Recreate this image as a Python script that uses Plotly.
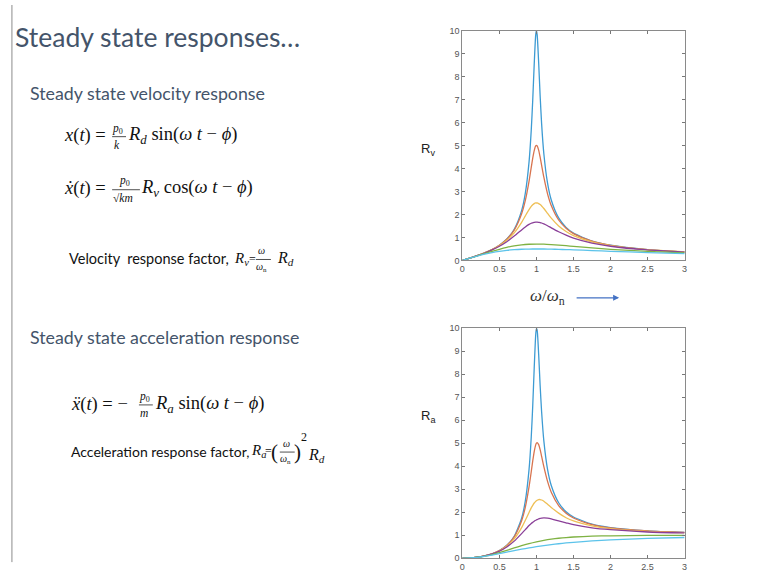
import plotly.graph_objects as go

W, H = 763, 574

# ---------------- data ----------------
damping = ["0.05", "0.1", "0.2", "0.3", "0.7", "1.0"]

x_fine = [0, 0.1, 0.2, 0.3, 0.4, 0.5, 0.6, 0.7, 0.8, 0.85, 0.9, 0.93, 0.95, 0.97, 0.99,
          1.0, 1.01, 1.03, 1.05, 1.07, 1.1, 1.15, 1.2, 1.3, 1.4, 1.5, 1.75, 2.0, 2.5, 3.0]
x_coarse = [0, 0.1, 0.2, 0.3, 0.4, 0.5, 0.6, 0.7, 0.8, 0.9, 1.0,
            1.1, 1.2, 1.3, 1.4, 1.5, 1.75, 2.0, 2.5, 3.0]

rv_005 = [0, 0.101, 0.208, 0.330, 0.476, 0.665, 0.933, 1.36, 2.17, 2.93, 4.28, 5.67, 6.98, 8.54, 9.80,
          10.0, 9.81, 8.61, 7.16, 5.94, 4.64, 3.36, 2.63, 1.85, 1.44, 1.19, 0.846, 0.665, 0.476, 0.375]
rv_010 = [0, 0.101, 0.208, 0.329, 0.474, 0.661, 0.921, 1.32, 2.03, 2.61, 3.44, 4.05, 4.45, 4.78, 4.98,
          5.0, 4.98, 4.80, 4.49, 4.14, 3.62, 2.90, 2.39, 1.76, 1.40, 1.17, 0.837, 0.661, 0.474, 0.374]
rv_020 = [0, 0.101, 0.208, 0.327, 0.468, 0.644, 0.878, 1.20, 1.66, 1.94, 2.21, 2.35, 2.42, 2.47, 2.50,
          2.50, 2.50, 2.47, 2.43, 2.37, 2.26, 2.05, 1.84, 1.50, 1.26, 1.08, 0.804, 0.644, 0.468, 0.371]
rv_030 = [0, 0.101, 0.207, 0.323, 0.458, 0.619, 0.817, 1.06, 1.33, 1.46, 1.57, 1.62, 1.64, 1.66, 1.67,
          1.67, 1.67, 1.66, 1.65, 1.63, 1.59, 1.51, 1.42, 1.25, 1.10, 0.974, 0.756, 0.619, 0.458, 0.366]
rv_070 = [0, 0.100, 0.200, 0.299, 0.396, 0.487, 0.568, 0.634, 0.680, 0.706, 0.714,
          0.708, 0.691, 0.668, 0.642, 0.614, 0.546, 0.487, 0.396, 0.332]
rv_100 = [0, 0.099, 0.192, 0.275, 0.345, 0.400, 0.441, 0.470, 0.488, 0.497, 0.500,
          0.498, 0.492, 0.483, 0.473, 0.462, 0.431, 0.400, 0.345, 0.300]

ra_005 = [0, 0.010, 0.042, 0.099, 0.190, 0.333, 0.560, 0.952, 1.74, 2.49, 3.85, 5.27, 6.63, 8.28, 9.71,
          10.0, 9.91, 8.87, 7.51, 6.36, 5.10, 3.86, 3.16, 2.41, 2.02, 1.79, 1.48, 1.33, 1.19, 1.12]
ra_010 = [0, 0.010, 0.042, 0.099, 0.190, 0.330, 0.553, 0.927, 1.63, 2.22, 3.10, 3.76, 4.23, 4.64, 4.93,
          5.0, 5.03, 4.94, 4.72, 4.43, 3.98, 3.34, 2.87, 2.29, 1.96, 1.75, 1.46, 1.32, 1.19, 1.12]
ra_020 = [0, 0.010, 0.042, 0.098, 0.187, 0.322, 0.527, 0.842, 1.33, 1.65, 1.99, 2.19, 2.30, 2.40, 2.47,
          2.50, 2.52, 2.55, 2.55, 2.53, 2.48, 2.35, 2.21, 1.96, 1.76, 1.62, 1.41, 1.29, 1.17, 1.11]
ra_030 = [0, 0.010, 0.041, 0.097, 0.183, 0.310, 0.490, 0.742, 1.07, 1.24, 1.42, 1.51, 1.56, 1.61, 1.65,
          1.67, 1.68, 1.71, 1.73, 1.74, 1.75, 1.74, 1.71, 1.62, 1.54, 1.46, 1.32, 1.24, 1.14, 1.10]
ra_070 = [0, 0.010, 0.040, 0.090, 0.159, 0.244, 0.341, 0.444, 0.544, 0.636, 0.714,
          0.779, 0.829, 0.868, 0.898, 0.921, 0.956, 0.975, 0.991, 0.996]
ra_100 = [0, 0.010, 0.038, 0.083, 0.138, 0.200, 0.265, 0.329, 0.390, 0.448, 0.500,
          0.548, 0.590, 0.628, 0.662, 0.692, 0.754, 0.800, 0.862, 0.900]

x_ticks = [0, 0.5, 1, 1.5, 2, 2.5, 3]
x_tick_text = ["0", "0.5", "1", "1.5", "2", "2.5", "3"]
y_ticks = list(range(0, 11))

colors = ["#3d9bd3", "#d8744f", "#eebf55", "#8a3f98", "#7fb243", "#5cc3ea"]

rv_series = [(x_fine, rv_005), (x_fine, rv_010), (x_fine, rv_020), (x_fine, rv_030),
             (x_coarse, rv_070), (x_coarse, rv_100)]
ra_series = [(x_fine, ra_005), (x_fine, ra_010), (x_fine, ra_020), (x_fine, ra_030),
             (x_coarse, ra_070), (x_coarse, ra_100)]

# ---------------- figure ----------------
fig = go.Figure()
for i, (xs, ys) in enumerate(rv_series):
    fig.add_trace(go.Scatter(x=xs, y=ys, mode="lines", name="ζ=" + damping[i],
                             line=dict(color=colors[i], width=1.3, shape="spline", smoothing=0.6),
                             xaxis="x", yaxis="y", showlegend=False))
for i, (xs, ys) in enumerate(ra_series):
    fig.add_trace(go.Scatter(x=xs, y=ys, mode="lines", name="ζ=" + damping[i],
                             line=dict(color=colors[i], width=1.3, shape="spline", smoothing=0.6),
                             xaxis="x2", yaxis="y2", showlegend=False))


def px(x):
    return x / W


def py(y):
    return 1 - y / H


ax_common = dict(showgrid=False, zeroline=False, ticks="inside", ticklen=3, tickcolor="#777",
                 linecolor="#8a8a8a", linewidth=1, mirror="ticks", showline=True,
                 tickfont=dict(family="Liberation Sans Narrow, Arial Narrow, Liberation Sans", size=9, color="#555"))

fig.update_layout(
    width=W, height=H,
    margin=dict(l=0, r=0, t=0, b=0),
    paper_bgcolor="white", plot_bgcolor="white",
    xaxis=dict(domain=[px(463), px(687)], range=[0, 3], tickvals=x_ticks, ticktext=x_tick_text,
               anchor="y", **ax_common),
    yaxis=dict(domain=[py(260), py(26)], range=[0, 10], tickvals=y_ticks, anchor="x", **ax_common),
    xaxis2=dict(domain=[px(463), px(687)], range=[0, 3], tickvals=x_ticks, ticktext=x_tick_text,
                anchor="y2", **ax_common),
    yaxis2=dict(domain=[py(563), py(329)], range=[0, 10], tickvals=y_ticks, anchor="x2", **ax_common),
)

ann = []
HEAD = "#44546a"
SANS = "Lato, Open Sans, sans-serif"
SERIF = "Liberation Serif, DejaVu Serif, serif"


def T(x, y, s, size, color="#111", family=SANS, xanchor="left"):
    ann.append(dict(x=px(x - 2), y=py(y), xref="paper", yref="paper", text=s, showarrow=False,
                    xanchor=xanchor, yanchor="middle", borderpad=0,
                    font=dict(size=size, color=color, family=family)))


# headings
T(13, 33, "Steady state responses…", 26.5, HEAD)
T(28, 90, "Steady state velocity response", 17.8, HEAD)
T(28, 338, "Steady state acceleration response", 17.8, HEAD)

# x(t) equation
T(62, 133, "<i>x</i>(<i>t</i>) =", 18.5, family=SERIF)
T(111, 126, "<i>p</i><sub>0</sub>", 11.5, family=SERIF)
T(113, 142, "<i>k</i>", 11.5, family=SERIF)
T(127, 133, "<i>R<sub>d</sub></i> sin(<i>ω t</i> − <i>ϕ</i>)", 18.5, family=SERIF)

# x-dot equation
T(62, 187, "<i>x\u0307</i>(<i>t</i>) =", 18.5, family=SERIF)
T(118, 179, "<i>p</i><sub>0</sub>", 11.5, family=SERIF)
T(112, 196, "√<i>km</i>", 11.5, family=SERIF)
T(140, 187, "<i>R<sub>v</sub></i> cos(<i>ω t</i> − <i>ϕ</i>)", 18.5, family=SERIF)

# velocity response factor
T(68, 258, "Velocity  response factor,", 14.5)
T(234, 258, "<i>R<sub>v</sub></i>", 15, family=SERIF)
T(249, 258, "=", 12, family=SERIF)
T(258, 250, "<i>ω</i>", 10, family=SERIF)
T(256, 267, "<i>ω</i><sub>n</sub>", 10, family=SERIF)
T(277, 258, "<i>R<sub>d</sub></i>", 16, family=SERIF)

# x-double-dot equation
T(70, 407, "<i>x\u0308</i>(<i>t</i>) = −", 18.5, family=SERIF)
T(138, 399, "<i>p</i><sub>0</sub>", 11.5, family=SERIF)
T(139, 415, "<i>m</i>", 11.5, family=SERIF)
T(154, 407, "<i>R<sub>a</sub></i> sin(<i>ω t</i> − <i>ϕ</i>)", 18.5, family=SERIF)

# acceleration response factor
T(70, 454, "Acceleration response factor,", 14)
T(251, 454, "<i>R<sub>a</sub></i>", 15, family=SERIF)
T(265, 454, "=", 12, family=SERIF)
T(271, 455, "(", 21, family=SERIF)
T(283, 446, "<i>ω</i>", 10, family=SERIF)
T(280, 463, "<i>ω</i><sub>n</sub>", 10, family=SERIF)
T(294, 455, ")", 21, family=SERIF)
T(301, 440, "2", 12, family=SERIF)
T(308, 458, "<i>R<sub>d</sub></i>", 16, family=SERIF)

# plot labels
T(422, 147, "R<sub>v</sub>", 13, "#222", "Liberation Sans Narrow, Liberation Sans")
T(422, 419, "R<sub>a</sub>", 13, "#222", "Liberation Sans Narrow, Liberation Sans")
T(551, 297, "<i>ω</i>/<i>ω</i><sub>n</sub>", 17, "#333", SERIF, xanchor="center")

# arrow after ω/ωn
ann.append(dict(x=px(621), y=py(298), xref="paper", yref="paper", ax=-44, ay=0,
                axref="pixel", ayref="pixel", text="", showarrow=True, arrowhead=2,
                arrowsize=1, arrowwidth=1.2, arrowcolor="#4472c4"))

fig.update_layout(annotations=ann)

# decorative lines: slide edge and fraction bars
shapes = [
    dict(type="line", xref="paper", yref="paper", x0=px(9), x1=px(9), y0=py(0), y1=py(567),
         line=dict(color="#8c8c8c", width=1)),
]
for (x0, x1, y) in [(110, 124, 134), (110, 138, 188), (255, 270, 259), (137, 151, 407), (279, 294, 455)]:
    shapes.append(dict(type="line", xref="paper", yref="paper", x0=px(x0), x1=px(x1), y0=py(y), y1=py(y),
                       line=dict(color="#222", width=0.8)))
fig.update_layout(shapes=shapes)

fig.write_html("out.html")
